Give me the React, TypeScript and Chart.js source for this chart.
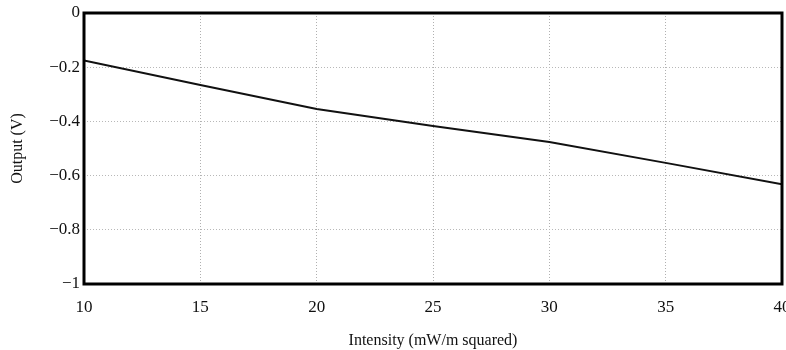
import React, { useEffect, useRef } from "react";
import { Chart, registerables } from "chart.js";

Chart.register(...registerables);

const intensity = [10, 15, 20, 25, 30, 35, 40];
const outputV = [-0.175, -0.266, -0.354, -0.417, -0.476, -0.553, -0.632];
const yTicks = [0, -0.2, -0.4, -0.6, -0.8, -1];
const xTicks = [10, 15, 20, 25, 30, 35, 40];

const fmtY = (v: number) => (v === 0 ? "0" : "\u2212" + String(Math.abs(v)));

const framePlugin = {
  id: "frame",
  afterDraw(chart: any) {
    const { ctx, chartArea } = chart;
    ctx.save();
    ctx.strokeStyle = "#000";
    ctx.lineWidth = 3;
    ctx.strokeRect(chartArea.left, chartArea.top, chartArea.right - chartArea.left, chartArea.bottom - chartArea.top);
    ctx.restore();
  },
};

export default function App() {
  const ref = useRef<HTMLCanvasElement>(null);
  useEffect(() => {
    document.body.style.margin = "0";
    const font = { family: "'Liberation Serif', 'Times New Roman', serif", size: 16 };
    const tickFont = { family: "'Liberation Serif', 'Times New Roman', serif", size: 17 };
    const chart = new Chart(ref.current!, {
      type: "line",
      data: {
        datasets: [
          {
            data: intensity.map((x, i) => ({ x, y: outputV[i] })),
            borderColor: "#111",
            borderWidth: 2,
            pointRadius: 0,
            tension: 0,
          },
        ],
      },
      options: {
        animation: false,
        responsive: false,
        layout: { padding: { top: 13, right: 4, left: 0, bottom: 0 } },
        plugins: { legend: { display: false }, tooltip: { enabled: false } },
        scales: {
          x: {
            type: "linear",
            min: 10,
            max: 40,
            afterBuildTicks: (s: any) => {
              s.ticks = xTicks.map((v) => ({ value: v }));
            },
            afterFit: (s: any) => {
              s.height = 66;
              s.paddingLeft = 0;
              s.paddingRight = 0;
            },
            ticks: { color: "#111", font: tickFont, padding: 13, maxRotation: 0, callback: (v: any) => String(v) },
            grid: { color: "#b0b0b0", lineWidth: 1, drawTicks: false },
            border: { display: false, dash: [1, 2] },
            title: { display: true, text: "Intensity (mW/m squared)", color: "#111", font, padding: { top: 6, bottom: 0 } },
          },
          y: {
            type: "linear",
            min: -1,
            max: 0,
            afterBuildTicks: (s: any) => {
              s.ticks = yTicks.map((v) => ({ value: v }));
            },
            afterFit: (s: any) => {
              s.width = 84;
              s.paddingTop = 0;
              s.paddingBottom = 0;
            },
            ticks: { color: "#111", font: tickFont, padding: 4, callback: (v: any) => fmtY(Number(v)) },
            grid: { color: "#b8b8b8", lineWidth: 1, drawTicks: false },
            border: { display: false, dash: [1, 2] },
            title: { display: true, text: "Output (V)", color: "#111", font, padding: { top: 8, bottom: 4 } },
          },
        },
      },
      plugins: [framePlugin],
    } as any);
    return () => chart.destroy();
  }, []);
  return (
    <div style={{ position: "absolute", left: 0, top: 0, width: 786, height: 350, background: "#fff" }}>
      <canvas ref={ref} width={786} height={350} style={{ width: 786, height: 350 }} />
    </div>
  );
}
